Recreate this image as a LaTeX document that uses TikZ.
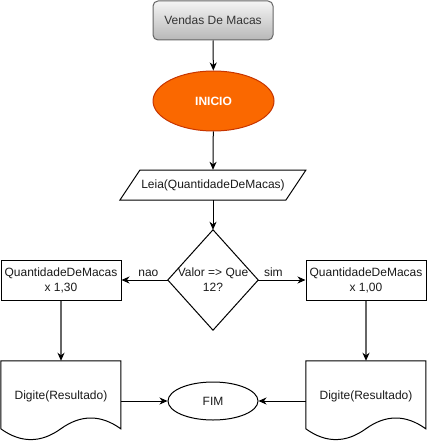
\documentclass[tikz,border=0pt]{standalone}
\usepackage{fontspec}
\setmainfont{Liberation Sans}
\usetikzlibrary{arrows.meta,shapes.geometric,calc}
\definecolor{orangeF}{HTML}{FA6800}
\definecolor{orangeD}{HTML}{C73500}
\definecolor{grayB}{HTML}{666666}
\definecolor{txt}{HTML}{1A1A1A}
\begin{document}
\begin{tikzpicture}[x=1pt,y=-1pt,
  every node/.style={font=\fontsize{12}{15}\selectfont,text=txt,inner sep=0pt,align=center},
  box/.style={draw=black,line width=1pt,rectangle,minimum width=120pt,minimum height=40pt},
  ghost/.style={rectangle,draw=none},
  arr/.style={-{Stealth[length=8pt,width=7pt,inset=2.5pt]},line width=1pt,draw=black},
  garr/.style={draw=grayB,line width=1.6pt,-{Stealth[length=8pt,width=7pt,inset=2.5pt,color=black]}},
  lbl/.style={font=\fontsize{12}{14}\selectfont}]
\useasboundingbox (0,0) rectangle (426,441);
% title
\node[draw=grayB,line width=1pt,rounded corners=5pt,top color=white!96!black,bottom color=black!28,
  minimum width=120pt,minimum height=39pt,text=black!80] (title) at (213,20.5) {Vendas De Macas};
% inicio
\node[ellipse,draw=orangeD,fill=orangeF,line width=1pt,minimum width=121pt,minimum height=60pt,
  text=white,font=\fontsize{12}{15}\selectfont\bfseries] (ini) at (213.5,101) {INICIO};
% leia
\node[ghost,minimum width=186pt,minimum height=30pt] (leia) at (213,185) {Leia(QuantidadeDeMacas)};
\draw[line width=1pt] ($(leia.south west)$) -- ++(20,-30) -- ++(166,0) -- ++(-20,30) -- cycle;
% decision
\node[ghost,minimum width=90pt,minimum height=100pt] (dec) at (213,280) {Valor => Que\\12?};
\draw[line width=1pt] (dec.north) -- (dec.east) -- (dec.south) -- (dec.west) -- cycle;
% boxes
\node[box] (qL) at (61,280) {QuantidadeDeMacas\\x 1,30};
\node[box] (qR) at (366,280) {QuantidadeDeMacas\\x 1,00};
% documents
\node[ghost,minimum width=120pt,minimum height=80pt] (dL) at (61,401) {\raisebox{11pt}{Digite(Resultado)}};
\node[ghost,minimum width=120pt,minimum height=80pt] (dR) at (366,401) {\raisebox{11pt}{Digite(Resultado)}};
\foreach \d in {dL,dR}{
  \draw[line width=1pt,shift={(\d.north west)}] (0,0) -- (120,0) -- (120,68)
    .. controls (100,53.6) and (80,53.6) .. (60,68)
    .. controls (40,82.4) and (20,82.4) .. (0,68) -- cycle;
}
% fim
\node[ellipse,draw=black,line width=1pt,minimum width=90pt,minimum height=38pt] (fim) at (213,401) {FIM};
% connectors
\draw[arr] (title) -- (ini);
\draw[arr] (ini) -- (leia.north);
\draw[arr] (leia.south) -- (dec.north);
\draw[arr] (dec.west) -- node[lbl,above=3pt,pos=0.42] {nao} (qL.east);
\draw[arr] (dec.east) -- node[lbl,above=3pt,pos=0.32] {sim} (qR.west);
\draw[garr] (qL) -- (dL.north);
\draw[garr] (qR) -- (dR.north);
\draw[arr] (dL.east) -- (fim.west);
\draw[arr] (dR.west) -- (fim.east);
\end{tikzpicture}
\end{document}
